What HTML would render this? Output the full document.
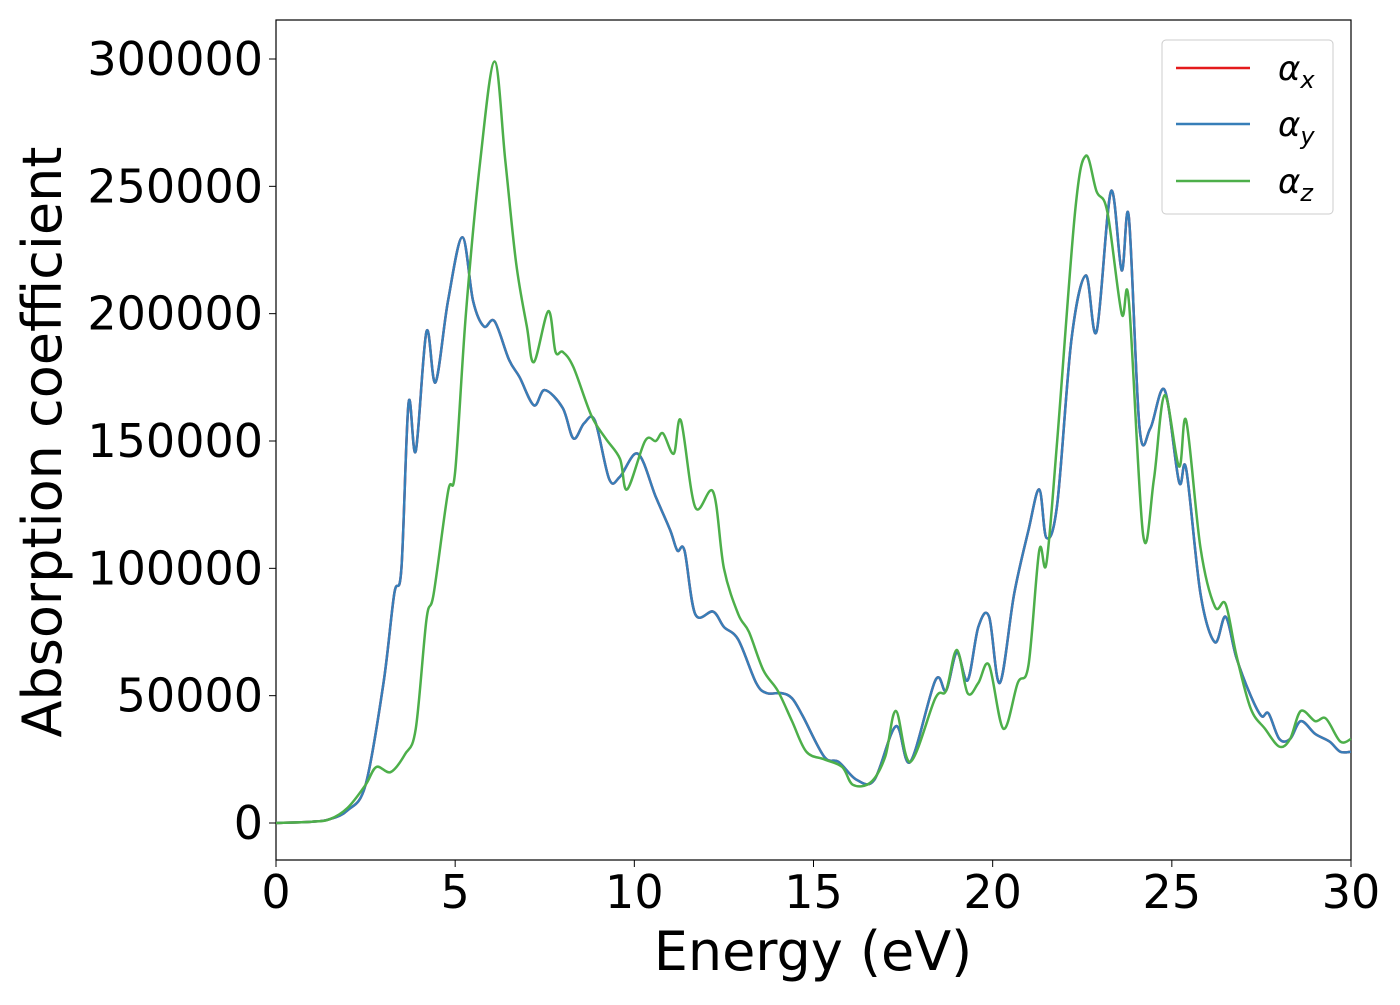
<!DOCTYPE html>
<html><head><meta charset="utf-8"><style>
body{margin:0;background:#fff;}
svg text{font-family:"DejaVu Sans","Liberation Sans",sans-serif;fill:#000;}
</style></head><body>
<svg width="1400" height="1000">
<rect x="276" y="20" width="1075" height="840" fill="#fff" stroke="#000" stroke-width="1.2"/>
<g id="ticks"></g>
<g id="series"></g>
<text x="813" y="970" font-size="54" text-anchor="middle">Energy (eV)</text>
<text transform="translate(61,442) rotate(-90)" font-size="54" text-anchor="middle">Absorption coefficient</text>
<g>
<rect x="1162" y="40" width="171" height="174" rx="4" fill="#fff" stroke="#ccc"/>
<line x1="1176" y1="68" x2="1250" y2="68" stroke="#e41a1c" stroke-width="2.5"/>
<text x="1278" y="80" font-size="34" font-style="italic">α<tspan font-size="24" dy="8">x</tspan></text>
<line x1="1176" y1="124" x2="1250" y2="124" stroke="#377eb8" stroke-width="2.5"/>
<text x="1278" y="136" font-size="34" font-style="italic">α<tspan font-size="24" dy="8">y</tspan></text>
<line x1="1176" y1="181" x2="1250" y2="181" stroke="#4daf4a" stroke-width="2.5"/>
<text x="1278" y="193" font-size="34" font-style="italic">α<tspan font-size="24" dy="8">z</tspan></text>
</g>
</svg>
<script>
const xTicks=[0,5,10,15,20,25,30];
const yTicks=[0,50000,100000,150000,200000,250000,300000];
const energyXY=[0,1,1.5,2,2.5,3,3.3,3.5,3.7,3.9,4.2,4.45,4.8,5.2,5.5,5.8,6.1,6.5,6.8,7.2,7.5,8.0,8.3,8.6,8.9,9.3,9.6,10.1,10.6,11.0,11.2,11.4,11.7,12.2,12.5,12.9,13.4,13.7,14.1,14.4,14.7,15.3,15.7,16.2,16.7,17.3,17.7,18.4,18.7,19.0,19.3,19.6,19.9,20.2,20.6,21.0,21.3,21.5,21.8,22.2,22.6,22.9,23.3,23.6,23.8,24.1,24.4,24.8,25.2,25.4,25.8,26.2,26.5,26.8,27.2,27.5,27.7,28.0,28.3,28.6,29.0,29.4,29.7,30];
const alphaXY=[0,500,1500,5000,15000,55000,90000,100000,165000,146000,193000,173000,205000,230000,205000,195000,197000,182000,175000,164000,170000,163000,151000,157000,158000,135000,136000,145000,128000,115000,107000,107000,82000,83000,77000,72000,55000,51000,51000,49000,42000,26000,24000,17000,17000,38000,24000,56000,52000,67000,56000,77000,81000,55000,90000,115000,131000,112000,125000,190000,215000,193000,248000,217000,238000,155000,155000,170000,134000,139000,90000,71000,81000,65000,50000,42000,43000,33000,33000,40000,35000,32000,28000,28000];
const energyZ=[0,1,1.5,2,2.5,2.8,3.2,3.6,3.9,4.2,4.4,4.8,5.0,5.3,5.7,6.1,6.4,6.7,7.0,7.2,7.6,7.8,8.0,8.3,8.8,9.2,9.6,9.8,10.3,10.6,10.8,11.1,11.3,11.7,12.2,12.5,12.9,13.2,13.6,14.0,14.4,14.8,15.3,15.8,16.1,16.6,17.0,17.3,17.7,18.4,18.7,19.0,19.3,19.6,19.9,20.3,20.7,21.0,21.3,21.5,21.8,22.3,22.6,22.9,23.2,23.6,23.8,24.2,24.5,24.8,25.2,25.4,25.8,26.2,26.5,26.8,27.2,27.6,28.0,28.3,28.6,29.0,29.3,29.7,30];
const alphaZ=[0,500,1500,6000,15000,22000,20000,27000,37000,80000,90000,130000,138000,200000,260000,299000,260000,220000,195000,181000,201000,185000,185000,179000,160000,151000,143000,131000,150000,150000,153000,145000,158000,124000,130000,100000,82000,75000,60000,52000,40000,28000,25000,22000,15000,16000,26000,44000,24000,49000,52000,68000,51000,55000,62000,37000,55000,62000,107000,102000,150000,240000,262000,248000,240000,200000,205000,113000,135000,168000,140000,158000,108000,85000,86000,66000,45000,37000,30000,33000,44000,40000,41000,32000,33000];
const X=e=>276+e*1075/30, Y=v=>823-v*(823-59)/300000;
const NS='http://www.w3.org/2000/svg';
const tg=document.getElementById('ticks');
xTicks.forEach(t=>{
 const l=document.createElementNS(NS,'line');l.setAttribute('x1',X(t));l.setAttribute('x2',X(t));l.setAttribute('y1',860);l.setAttribute('y2',867);l.setAttribute('stroke','#000');
 
 tg.appendChild(l);
 const s=document.createElementNS(NS,'text');s.setAttribute('x',X(t));s.setAttribute('y',908);s.setAttribute('font-size','46');s.setAttribute('text-anchor','middle');s.textContent=t;
 
 tg.appendChild(s);
});
yTicks.forEach(t=>{
 const l=document.createElementNS(NS,'line');l.setAttribute('x1',269);l.setAttribute('x2',276);l.setAttribute('y1',Y(t));l.setAttribute('y2',Y(t));l.setAttribute('stroke','#000');
 
 tg.appendChild(l);
 const s=document.createElementNS(NS,'text');s.setAttribute('x',263);s.setAttribute('y',Y(t)+16);s.setAttribute('font-size','46');s.setAttribute('text-anchor','end');s.textContent=t;
 
 tg.appendChild(s);
});
function path(ex,vals){
 const p=ex.map((e,i)=>[X(e),Y(vals[i])]);
 let d='M'+p[0][0]+','+p[0][1];
 for(let i=0;i<p.length-1;i++){
  const p0=p[Math.max(0,i-1)],p1=p[i],p2=p[i+1],p3=p[Math.min(p.length-1,i+2)];
  d+=' C'+(p1[0]+(p2[0]-p0[0])/6)+','+(p1[1]+(p2[1]-p0[1])/6)+' '+(p2[0]-(p3[0]-p1[0])/6)+','+(p2[1]-(p3[1]-p1[1])/6)+' '+p2[0]+','+p2[1];
 }
 return d;
}
const sg=document.getElementById('series');
[['#e41a1c',energyXY,alphaXY,'series-alpha-x'],['#377eb8',energyXY,alphaXY,'series-alpha-y'],['#4daf4a',energyZ,alphaZ,'series-alpha-z']].forEach(s=>{
 const p=document.createElementNS(NS,'path');p.setAttribute('d',path(s[1],s[2]));p.setAttribute('fill','none');p.setAttribute('stroke',s[0]);p.setAttribute('stroke-width','2.5');p.setAttribute('stroke-linejoin','round');
 
 sg.appendChild(p);
});
</script>
</body></html>
